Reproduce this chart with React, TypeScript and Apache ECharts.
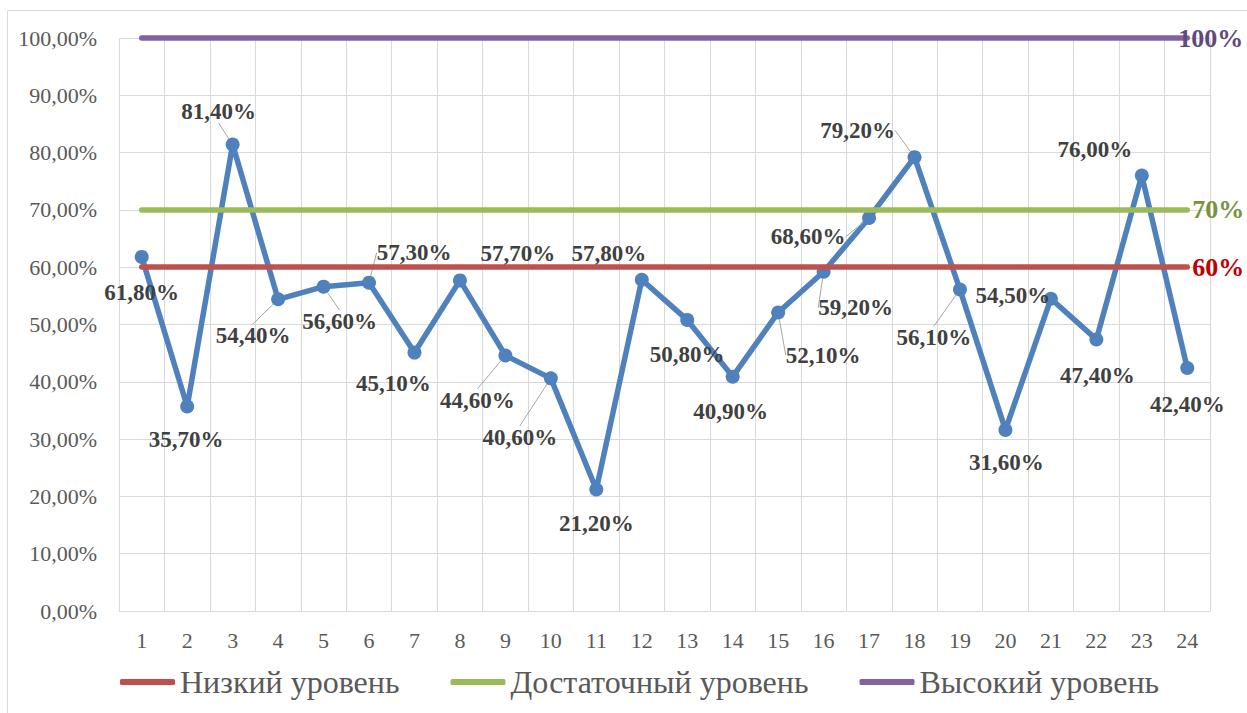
import React, { useEffect, useRef } from "react";
import * as echarts from "echarts";

const categories = ["1","2","3","4","5","6","7","8","9","10","11","12","13","14","15","16","17","18","19","20","21","22","23","24"];
const values = [61.8, 35.7, 81.4, 54.4, 56.6, 57.3, 45.1, 57.7, 44.6, 40.6, 21.2, 57.8, 50.8, 40.9, 52.1, 59.2, 68.6, 79.2, 56.1, 31.6, 54.5, 47.4, 76.0, 42.4];
const levelNames = ["Низкий уровень", "Достаточный уровень", "Высокий уровень"];
const levelValues = [60, 70, 100];
const levelLabels = ["60%", "70%", "100%"];

// label layout (offset of label centre from its point) and leader flags
const labelDx = [0, -1, -14, -25, 16, 45, -21, 58, -28, -31, 0, -33, 0, -2, 45, 32, -61, -57, -26, 1, -38, 1, -47, 0];
const labelDy = [36, 33, -33, 36, 35, -30, 31, -27, 45, 59, 34, -26, 35, 35, 43, 36, 19, -27, 48, 33, -3, 36, -26, 36];
const leader = [false, false, true, true, true, true, false, false, true, true, false, false, false, false, true, true, true, true, true, false, false, false, false, false];

const levelColors = ["#C0504D", "#9BBB59", "#8064A2"];
const levelTextColors = ["#C00000", "#77933C", "#604A7B"];
const levelLabelDist = [5, 5, -9];

const FONT = "'Liberation Serif', 'Times New Roman', serif";
const fmt = (v: number) => v.toFixed(2).replace(".", ",") + "%";

export default function App() {
  const ref = useRef<HTMLDivElement>(null);
  useEffect(() => {
    if (!ref.current) return;
    const chart = echarts.init(ref.current, undefined, { renderer: "svg" });
    const levelSeries = levelNames.map((name, k) => ({
      name,
      type: "line",
      data: [],
      color: levelColors[k],
      z: 3,
      markLine: {
        silent: true,
        symbol: "none",
        animation: false,
        lineStyle: { color: levelColors[k], width: 5.5, type: "solid", cap: "round" },
        label: {
          show: true,
          position: "end",
          distance: levelLabelDist[k],
          formatter: levelLabels[k],
          color: levelTextColors[k],
          fontFamily: FONT,
          fontWeight: "bold",
          fontSize: 26,
        },
        data: [[
          { coord: [categories[0], levelValues[k]] },
          { coord: [categories[categories.length - 1], levelValues[k]] },
        ]],
      },
    }));
    chart.setOption({
      animation: false,
      backgroundColor: "#ffffff",
      textStyle: { fontFamily: FONT },
      graphic: [
        {
          type: "rect",
          shape: { x: 7.5, y: 10.5, width: 1260, height: 720 },
          style: { fill: "none", stroke: "#D9D9D9", lineWidth: 1 },
          silent: true,
        },
      ],
      grid: { left: 119, right: 37, top: 38, bottom: 102, containLabel: false },
      legend: {
        left: 120,
        top: 666,
        padding: 0,
        data: levelNames,
        icon: "roundRect",
        itemWidth: 55,
        itemHeight: 6,
        itemGap: 51,
        textStyle: { fontFamily: FONT, fontSize: 32, color: "#595959" },
      },
      xAxis: {
        type: "category",
        data: categories,
        boundaryGap: true,
        axisLine: { lineStyle: { color: "#D9D9D9", width: 1 } },
        axisTick: { show: false },
        splitLine: { show: true, lineStyle: { color: "#D9D9D9", width: 1 } },
        axisLabel: { fontFamily: FONT, fontSize: 22, color: "#595959", margin: 18, interval: 0 },
      },
      yAxis: {
        type: "value",
        min: 0,
        max: 100,
        interval: 10,
        axisLine: { show: false },
        axisTick: { show: false },
        splitLine: { lineStyle: { color: "#D9D9D9", width: 1 } },
        axisLabel: { fontFamily: FONT, fontSize: 22, color: "#595959", margin: 22, formatter: fmt },
      },
      series: [
        {
          name: "Результат",
          type: "line",
          z: 2,
          data: values.map((v, i) => ({ value: v, labelLine: { show: leader[i] } })),
          color: "#4F81BD",
          lineStyle: { width: 5.5, color: "#4F81BD" },
          symbol: "circle",
          symbolSize: 14,
          itemStyle: { color: "#4F81BD" },
          label: {
            show: true,
            position: "inside",
            formatter: (p: any) => fmt(p.value),
            fontFamily: FONT,
            fontWeight: "bold",
            fontSize: 23,
            color: "#404040",
          },
          labelLine: { show: false, lineStyle: { color: "#A6A6A6", width: 1 } },
          labelLayout: (p: any) => ({ dx: labelDx[p.dataIndex], dy: labelDy[p.dataIndex] }),
        },
        ...levelSeries,
      ],
    });
    return () => chart.dispose();
  }, []);
  return <div ref={ref} style={{ position: "absolute", left: 0, top: 0, width: 1247, height: 713 }} />;
}
